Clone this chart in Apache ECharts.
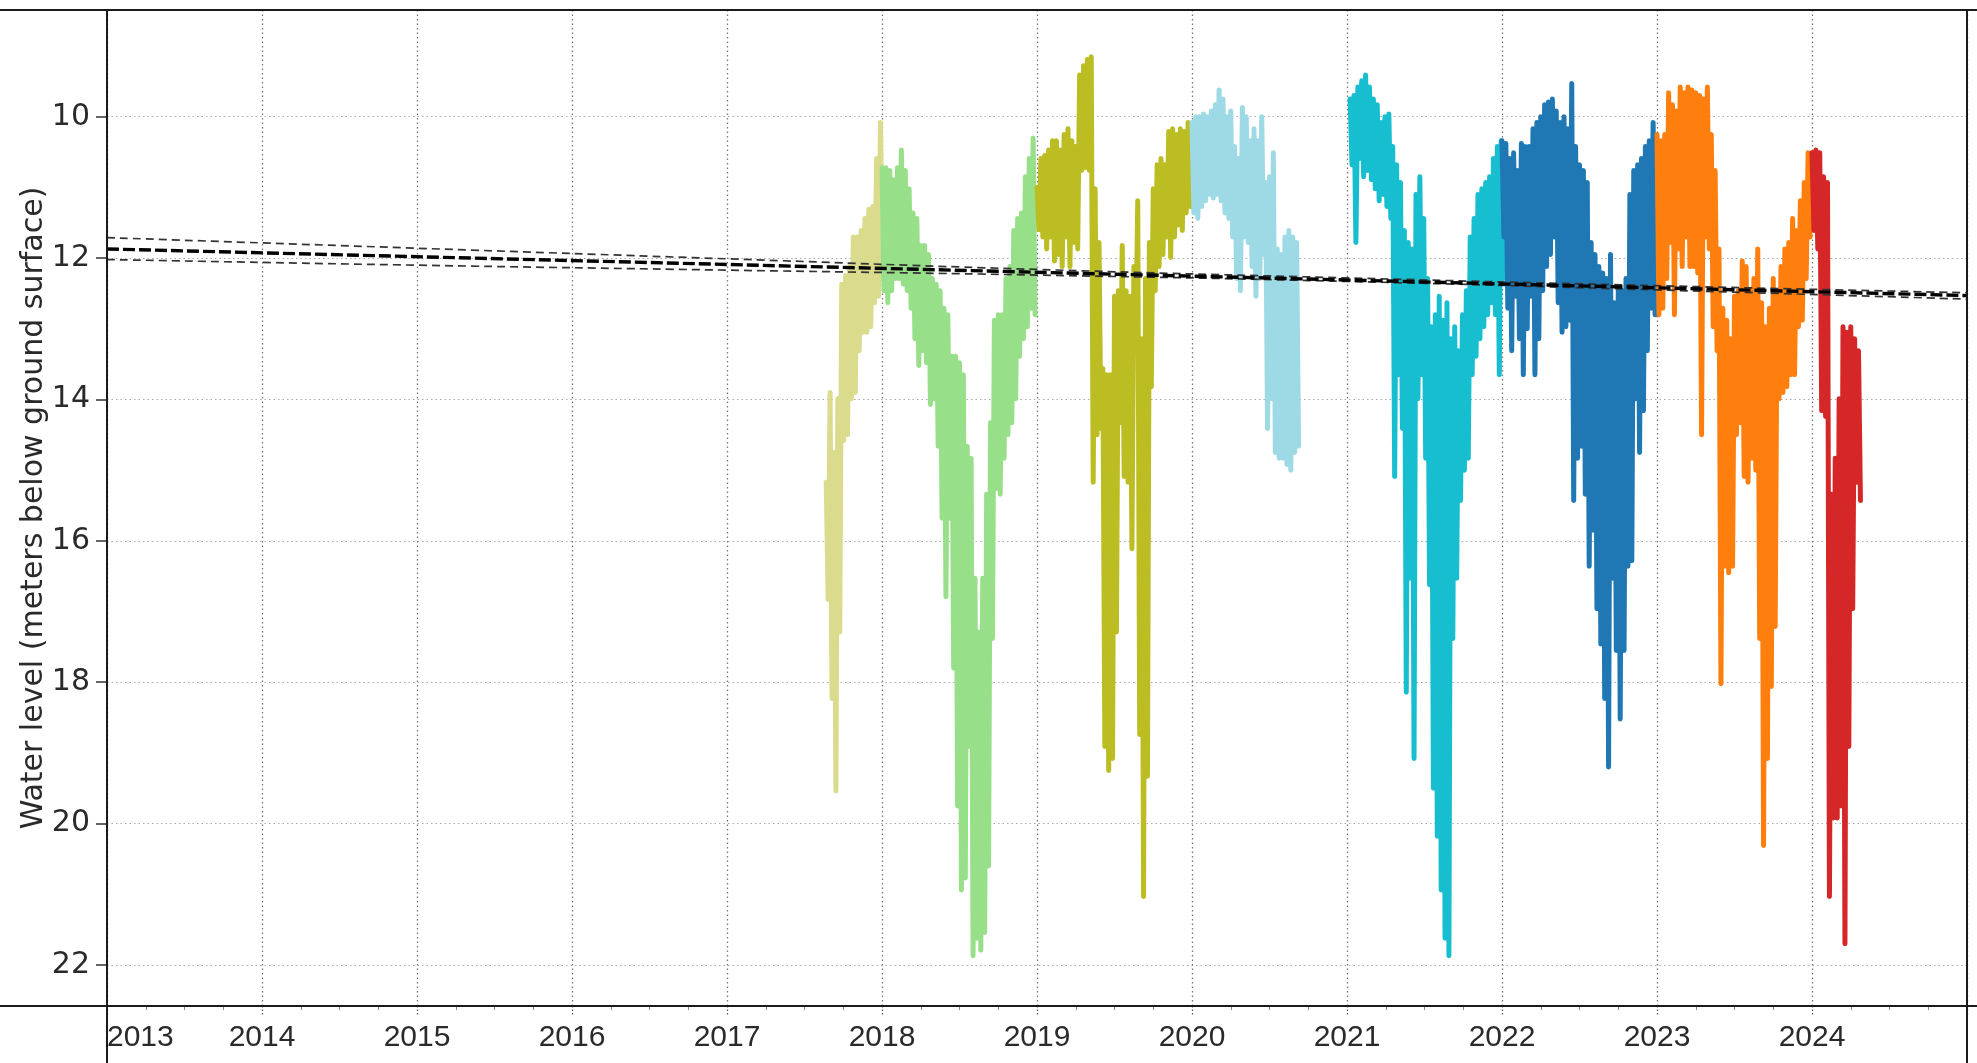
<!DOCTYPE html>
<html>
<head>
<meta charset="utf-8">
<script src="https://cdn.jsdelivr.net/npm/echarts@6/dist/echarts.min.js"></script>
<style>
html,body{margin:0;padding:0;background:#fff;}
#chart{width:1977px;height:1063px;}
</style>
</head>
<body>
<div id="chart"></div>
<script>
// ---- data ----
const yearTicks = [2013, 2014, 2015, 2016, 2017, 2018, 2019, 2020, 2021, 2022, 2023, 2024, 2025];
const levelTicks = [10, 12, 14, 16, 18, 20, 22];
const STEP = 0.025; // sampling step in years

const segNames  = ['2017', '2018', '2019', '2020', '2021', '2022', '2023', '2024'];
const segStarts = [2017.64, 2018.0, 2019.0, 2020.0, 2021.02, 2022.0, 2023.0, 2024.0];

// upper (shallowest) and lower (deepest) water level in each sampling step, m below ground
const hi2017 = [15.17, 13.90, 14.75, 13.99, 12.37, 12.25, 12.12, 11.70, 11.70, 11.61, 11.44, 11.31, 11.27, 10.59, 10.08];
const lo2017 = [16.83, 18.23, 19.54, 17.29, 14.58, 14.50, 13.99, 13.90, 13.31, 13.05, 13.05, 12.97, 12.63, 12.54, 12.29];

const hi2018 = [10.72, 10.72, 10.76, 10.89, 10.72, 10.47, 10.76, 11.02, 11.36, 11.44, 11.82, 11.82, 11.95, 12.29, 12.37, 12.46, 12.71, 12.80, 13.39, 13.39,
                13.48, 13.65, 14.66, 14.83, 16.53, 17.29, 16.53, 15.34, 14.33, 12.88, 12.80, 12.80, 12.29, 12.12, 11.61, 11.44, 11.36, 10.85, 10.59, 10.30];
const lo2018 = [12.46, 12.63, 12.46, 12.29, 12.29, 12.37, 12.46, 12.71, 13.14, 13.52, 13.31, 13.48, 14.07, 13.99, 14.66, 15.68, 16.79, 15.68, 17.80, 19.75,
                20.94, 20.77, 18.91, 21.87, 21.62, 21.79, 21.54, 20.60, 17.38, 15.26, 15.34, 14.83, 14.50, 14.33, 13.99, 13.39, 13.14, 12.97, 12.71, 12.80];

const hi2019 = [11.00, 10.59, 10.55, 10.47, 10.34, 10.34, 10.47, 10.25, 10.17, 10.34, 10.42, 9.41, 9.28, 9.19, 9.15, 11.02, 11.78, 13.56, 13.65, 13.65,
                12.54, 12.46, 11.82, 12.46, 12.54, 12.12, 11.19, 13.14, 12.29, 11.78, 11.02, 10.68, 10.59, 10.68, 10.21, 10.17, 10.25, 10.17, 10.21, 10.08];
const lo2019 = [11.60, 11.70, 11.87, 11.70, 12.04, 11.95, 12.12, 11.70, 12.12, 11.78, 11.87, 10.76, 10.72, 10.76, 15.17, 14.50, 14.41, 18.91, 19.25, 19.08,
                17.29, 14.33, 15.09, 15.17, 16.11, 13.14, 18.74, 21.03, 19.33, 13.82, 12.46, 12.12, 11.95, 11.70, 11.99, 11.70, 11.53, 11.61, 11.36, 11.27];

const hi2020 = [10.08, 10.00, 10.00, 9.96, 10.00, 9.92, 9.83, 9.62, 9.75, 10.00, 9.92, 10.42, 10.59, 9.87, 10.00, 10.34, 10.17, 10.34, 10.00, 10.93,
                10.85, 10.51, 11.87, 11.95, 11.70, 11.61, 11.70, 11.78];
const lo2020 = [11.36, 11.44, 11.27, 11.19, 11.10, 11.15, 11.10, 11.19, 11.36, 11.44, 11.70, 12.29, 12.46, 11.70, 11.78, 12.12, 12.54, 12.29, 11.95, 14.41,
                13.99, 14.75, 14.83, 14.83, 14.92, 15.00, 14.75, 14.66];

const hi2021 = [9.75, 9.70, 9.58, 9.49, 9.41, 9.58, 9.75, 9.83, 10.08, 10.00, 9.96, 10.42, 10.68, 10.93, 11.61, 11.78, 11.87, 11.10, 10.85, 11.44,
                12.29, 12.97, 12.80, 12.54, 12.88, 12.63, 13.14, 12.97, 13.31, 12.80, 12.46, 11.70, 11.44, 11.10, 11.02, 10.93, 10.85, 10.59, 10.42, 10.34];
const lo2021 = [10.68, 11.78, 10.59, 10.85, 10.76, 10.89, 11.02, 11.19, 11.10, 11.27, 11.44, 15.09, 13.65, 14.41, 18.14, 16.53, 19.08, 13.99, 13.65, 14.83,
                16.62, 19.50, 20.18, 20.94, 21.62, 21.87, 17.38, 16.53, 15.43, 15.00, 14.83, 13.65, 13.39, 13.14, 12.97, 12.80, 12.63, 12.80, 13.65, 12.29];

const hi2022 = [10.34, 10.38, 10.59, 10.51, 10.76, 10.38, 10.42, 10.42, 10.17, 10.08, 10.00, 9.83, 9.79, 9.75, 9.92, 10.08, 10.00, 10.17, 9.53, 10.42,
                10.68, 10.76, 10.93, 11.78, 11.95, 12.12, 12.21, 12.29, 11.95, 12.63, 12.46, 12.46, 12.29, 11.10, 10.76, 10.68, 10.59, 10.42, 10.34, 10.08];
const lo2022 = [11.70, 12.71, 13.31, 12.54, 13.14, 13.65, 13.00, 12.54, 13.65, 13.14, 12.46, 12.12, 11.95, 11.70, 12.63, 13.05, 12.97, 12.88, 15.43, 14.83,
                14.66, 15.34, 16.36, 15.85, 16.96, 17.46, 18.23, 19.20, 16.53, 17.55, 18.52, 17.55, 16.36, 16.28, 13.99, 14.75, 14.16, 13.31, 12.71, 12.80];

const hi2023 = [10.25, 10.34, 10.25, 9.66, 9.83, 9.92, 9.58, 9.66, 9.58, 9.62, 9.66, 9.70, 9.75, 9.58, 10.25, 10.76, 11.87, 12.71, 12.88, 13.14,
                12.54, 12.46, 12.04, 12.12, 12.46, 12.29, 11.87, 12.63, 12.97, 12.71, 12.29, 12.46, 12.12, 11.87, 11.78, 11.44, 11.61, 11.19, 10.93, 10.51];
const lo2023 = [12.80, 12.71, 12.29, 11.78, 12.80, 11.87, 12.12, 11.70, 12.12, 12.12, 12.21, 14.50, 11.70, 11.87, 12.97, 13.31, 18.02, 16.36, 16.45, 16.36,
                14.50, 14.33, 15.09, 15.17, 14.83, 15.00, 17.38, 20.31, 19.08, 18.06, 17.21, 13.99, 13.90, 13.82, 13.65, 13.65, 12.97, 12.88, 12.29, 11.70];

const hi2024 = [10.51, 10.47, 10.51, 10.85, 10.93, 15.34, 14.83, 13.99, 12.97, 13.05, 12.97, 13.14, 13.31];
const lo2024 = [11.61, 11.87, 14.16, 14.24, 21.03, 19.92, 19.92, 19.75, 21.70, 18.91, 16.96, 15.17, 15.43];

const segHi = [hi2017, hi2018, hi2019, hi2020, hi2021, hi2022, hi2023, hi2024];
const segLo = [lo2017, lo2018, lo2019, lo2020, lo2021, lo2022, lo2023, lo2024];

// linear trend and its confidence band
const trendYears = [2013, 2025];
const trendLevel = [11.87, 12.53];
const bandYears = [2013, 2015, 2017, 2019, 2021, 2023, 2025];
const bandUpper = [11.71, 11.86, 12.01, 12.16, 12.28, 12.39, 12.49];
const bandLower = [12.02, 12.10, 12.17, 12.24, 12.33, 12.45, 12.58];

// ---- styling ----
const segColors = ['#dbdb8d', '#98df8a', '#bcbd22', '#9edae5', '#17becf', '#1f77b4', '#ff7f0e', '#d62728'];

function zigzag(start, hi, lo) {
  const pts = [];
  for (let i = 0; i < hi.length; i++) {
    pts.push([start + i * STEP, hi[i]]);
    pts.push([start + i * STEP + STEP / 2, lo[i]]);
  }
  return pts;
}
function pairs(xs, ys) { return xs.map((x, i) => [x, ys[i]]); }

const series = [];
segNames.forEach((name, k) => {
  series.push({
    name: name, type: 'line', data: zigzag(segStarts[k], segHi[k], segLo[k]),
    showSymbol: false, symbol: 'none', animation: false, z: 2,
    lineStyle: { color: segColors[k], width: 5, join: 'round', cap: 'round' }
  });
});
series.push({
  name: 'band upper', type: 'line', data: pairs(bandYears, bandUpper), smooth: true,
  showSymbol: false, symbol: 'none', animation: false, z: 5,
  lineStyle: { color: '#333', width: 1.7, type: [8, 5] }
});
series.push({
  name: 'band lower', type: 'line', data: pairs(bandYears, bandLower), smooth: true,
  showSymbol: false, symbol: 'none', animation: false, z: 5,
  lineStyle: { color: '#333', width: 1.7, type: [8, 5] }
});
series.push({
  name: 'trend', type: 'line', data: pairs(trendYears, trendLevel),
  showSymbol: false, symbol: 'none', animation: false, z: 6,
  lineStyle: { color: '#000', width: 3.4, type: [12, 4] }
});

const chart = echarts.init(document.getElementById('chart'), null, { renderer: 'canvas' });
const frame = { color: '#1a1a1a', width: 2 };
chart.setOption({
  backgroundColor: '#ffffff',
  animation: false,
  grid: { left: 107, right: 10, top: 10, bottom: 57, containLabel: false },
  xAxis: {
    type: 'value', min: yearTicks[0], max: yearTicks[yearTicks.length - 1], interval: 1,
    axisLine: { show: false },
    axisTick: { show: true, length: 10, lineStyle: { color: '#555', width: 1.2, type: [1.5, 2] } },
    minorTick: { show: true, splitNumber: 4, length: 4, lineStyle: { color: '#888', width: 1 } },
    axisLabel: {
      show: true, margin: 17, fontSize: 30, fontFamily: 'Liberation Sans', color: '#2a2a2a',
      showMaxLabel: false, alignMinLabel: 'left',
      formatter: v => yearTicks.indexOf(Math.round(v)) >= 0 ? String(Math.round(v)) : ''
    },
    splitLine: { show: true, lineStyle: { color: '#777', width: 1.3, type: [1.5, 3] } }
  },
  yAxis: {
    type: 'value', inverse: true, min: 8.49, max: 22.58, splitNumber: 7,
    name: 'Water level (meters below ground surface)', nameLocation: 'middle', nameGap: 58, nameRotate: 90,
    nameMoveOverlap: false,
    nameTextStyle: { fontSize: 30, fontFamily: 'DejaVu Sans', color: '#2a2a2a' },
    axisLine: { show: false },
    axisTick: { show: true, length: 11, lineStyle: { color: '#333', width: 1.5 } },
    axisLabel: {
      show: true, margin: 17, fontSize: 30, fontFamily: 'DejaVu Sans', color: '#2a2a2a',
      showMinLabel: false, showMaxLabel: false,
      formatter: v => levelTicks.indexOf(Math.round(v * 100) / 100) >= 0 ? String(v) : ''
    },
    splitLine: { show: true, lineStyle: { color: '#aaa', width: 1.2, type: [1.5, 3] } }
  },
  series: series,
  graphic: [
    { type: 'line', shape: { x1: 0, y1: 10, x2: 1977, y2: 10 }, style: { stroke: frame.color, lineWidth: frame.width }, z: 100 },
    { type: 'line', shape: { x1: 0, y1: 1006, x2: 1977, y2: 1006 }, style: { stroke: frame.color, lineWidth: frame.width }, z: 100 },
    { type: 'line', shape: { x1: 107, y1: 10, x2: 107, y2: 1063 }, style: { stroke: frame.color, lineWidth: frame.width }, z: 100 },
    { type: 'line', shape: { x1: 1967, y1: 10, x2: 1967, y2: 1063 }, style: { stroke: frame.color, lineWidth: frame.width }, z: 100 }
  ]
});
</script>
</body>
</html>
